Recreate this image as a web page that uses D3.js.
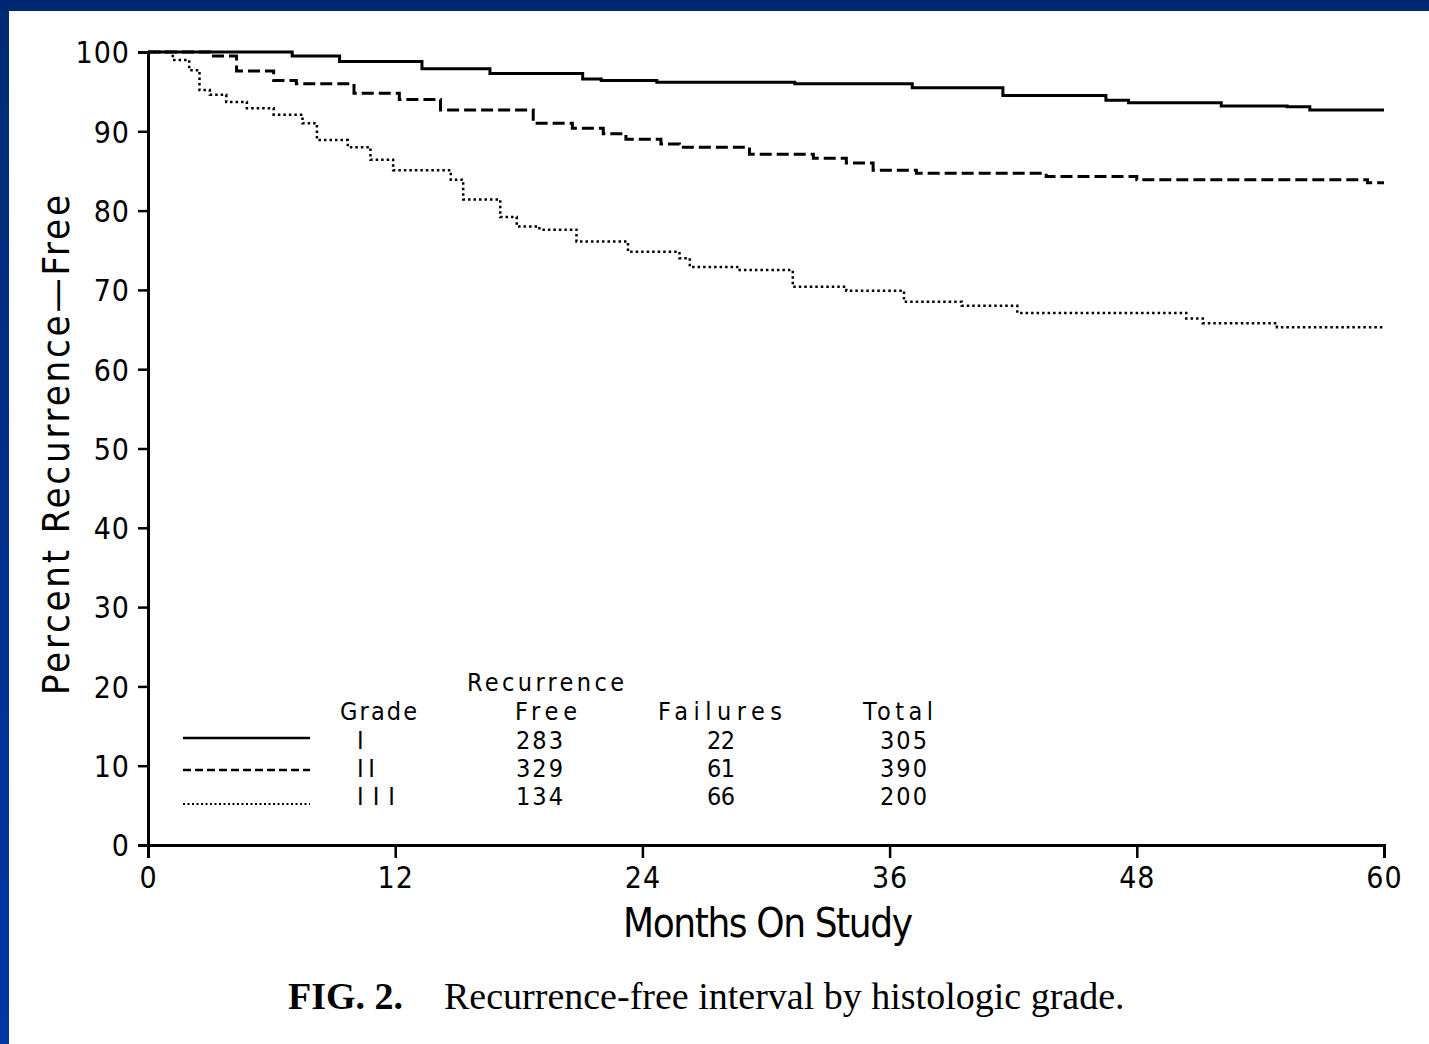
<!DOCTYPE html>
<html><head><meta charset="utf-8">
<script src="https://cdn.jsdelivr.net/npm/d3@7"></script>
<style>html,body{margin:0;padding:0;background:#fff;overflow:hidden}</style>
</head><body>
<script>
const xTicks = [0, 12, 24, 36, 48, 60];
const yTicks = [0, 10, 20, 30, 40, 50, 60, 70, 80, 90, 100];
const grades = ["I", "II", "III"];
const recurrenceFree = [283, 329, 134];
const failures = [22, 61, 66];
const totals = [305, 390, 200];
const gradeI = [[0,100],[7.0,99.5],[9.3,98.8],[13.3,97.9],[16.6,97.3],[21.1,96.6],[22.0,96.4],[24.7,96.2],[31.4,96.0],[37.1,95.5],[41.5,94.5],[46.5,93.9],[47.6,93.6],[52.1,93.2],[55.3,93.1],[56.4,92.7],[60,92.7]];
const gradeII = [[0,100],[3.0,99.5],[4.3,97.6],[6.1,96.4],[7.2,96.0],[10.0,94.8],[12.2,94.0],[14.2,92.7],[18.7,91.0],[20.6,90.4],[22.1,89.7],[23.2,89.0],[24.9,88.4],[25.8,88.0],[29.2,87.1],[32.3,86.6],[33.9,86.0],[35.2,85.1],[37.3,84.7],[43.6,84.3],[48.0,83.9],[59.2,83.5],[60,83.5]];
const gradeIII = [[0,100],[1.2,99.0],[2.0,97.7],[2.5,95.2],[3.0,94.6],[3.8,93.7],[4.8,92.9],[6.1,92.1],[7.5,91.0],[8.2,88.9],[9.7,88.0],[10.8,86.4],[11.9,85.1],[14.7,83.9],[15.3,81.4],[17.1,79.2],[17.9,78.0],[19.0,77.6],[20.8,76.1],[23.3,74.8],[25.8,74.0],[26.3,72.9],[28.6,72.5],[31.3,70.4],[33.9,69.9],[36.7,68.5],[39.5,68.0],[42.2,67.1],[50.4,66.4],[51.2,65.8],[54.8,65.3],[60,65.3]];

const W = 1429, H = 1044;
const svg = d3.select("body").append("svg").attr("width", W).attr("height", H);
const defs = svg.append("defs");
const lg = defs.append("linearGradient").attr("id","lb").attr("x1",0).attr("y1",0).attr("x2",0).attr("y2",1);
lg.append("stop").attr("offset","0%").attr("stop-color","#002a72");
lg.append("stop").attr("offset","100%").attr("stop-color","#0036a6");
svg.append("rect").attr("width",W).attr("height",H).attr("fill","#fff");
svg.append("rect").attr("x",0).attr("y",0).attr("width",9).attr("height",H).attr("fill","url(#lb)");
svg.append("rect").attr("x",0).attr("y",0).attr("width",W).attr("height",11).attr("fill","#002870");

const x = d3.scaleLinear().domain([0,60]).range([148,1384]);
const y = d3.scaleLinear().domain([0,100]).range([845,52]);
const F = "'DejaVu Sans Condensed','DejaVu Sans',sans-serif";

const g = svg.append("g");
const xa = g.append("g").attr("transform","translate(0,845)")
  .call(d3.axisBottom(x).tickValues(xTicks).tickSize(13).tickPadding(4).tickFormat(d3.format("d")));
const ya = g.append("g").attr("transform","translate(148,0)")
  .call(d3.axisLeft(y).tickValues(yTicks).tickSize(10).tickPadding(8).tickFormat(d3.format("d")));
[xa, ya].forEach(a => {
  a.select(".domain").attr("stroke","#000").attr("stroke-width",3);
  a.selectAll(".tick line").attr("stroke","#000").attr("stroke-width",2.5);
  a.selectAll(".tick text").attr("fill","#000").style("font-family",F).style("font-stretch","condensed")
    .style("font-size","30px").attr("letter-spacing","1px");
});
xa.selectAll(".tick text").attr("dy","0.88em");
ya.selectAll(".tick text").attr("dy","0.36em");

const line = d3.line().x(d=>x(d[0])).y(d=>y(d[1])).curve(d3.curveStepAfter);
const series = [
  {d:gradeI, dash:null, w:3},
  {d:gradeII, dash:"12,5", w:3},
  {d:gradeIII, dash:"2.5,3", w:2.5}
];
series.forEach(s => {
  g.append("path").datum(s.d).attr("d",line).attr("fill","none").attr("stroke","#000")
   .attr("stroke-width",s.w).attr("stroke-dasharray",s.dash);
});

svg.append("text").attr("x",768).attr("y",937).attr("text-anchor","middle")
  .style("font-family",F).style("font-stretch","condensed").style("font-size","40px")
  .attr("textLength",290).attr("lengthAdjust","spacing").text("Months  On  Study");
svg.append("text").attr("transform","translate(69,445) rotate(-90)").attr("text-anchor","middle")
  .style("font-family",F).style("font-stretch","condensed").style("font-size","38px")
  .attr("textLength",500).attr("lengthAdjust","spacing").text("Percent  Recurrence\u2014Free");

const leg = svg.append("g").style("font-family",F).style("font-stretch","condensed").style("font-size","25px").attr("fill","#000");
const hdr = [["Recurrence",467,691,157],["Grade",340,720,77],["Free",515,720,62],["Failures",658,720,124],["Total",863,720,70]];
hdr.forEach(h => leg.append("text").attr("x",h[1]).attr("y",h[2]).attr("textLength",h[3]).attr("lengthAdjust","spacing").text(h[0]));
const rowY = [749, 777, 805];
const lineY = [738, 770, 804];
const gradeW = [4, 18, 38];
series.forEach((s,i) => {
  leg.append("line").attr("x1",183).attr("x2",310).attr("y1",lineY[i]).attr("y2",lineY[i])
    .attr("stroke","#000").attr("stroke-width",i===2?2:2.5).attr("stroke-dasharray", i===1?"8,4":(i===2?"2,2.5":null));
  leg.append("text").attr("x",357).attr("y",rowY[i]).attr("textLength",gradeW[i]).attr("lengthAdjust","spacing").text(grades[i]);
  leg.append("text").attr("x",516).attr("y",rowY[i]).attr("textLength",47).attr("lengthAdjust","spacing").text(recurrenceFree[i]);
  leg.append("text").attr("x",707).attr("y",rowY[i]).attr("textLength",28).attr("lengthAdjust","spacing").text(failures[i]);
  leg.append("text").attr("x",880).attr("y",rowY[i]).attr("textLength",47).attr("lengthAdjust","spacing").text(totals[i]);
});

const cap = svg.append("text").attr("x",288).attr("y",1009).style("font-family","'Liberation Serif','Times New Roman',serif").style("font-size","38px").attr("fill","#000");
cap.append("tspan").style("font-weight","bold").text("FIG. 2.");
cap.append("tspan").attr("x",444).text("Recurrence-free interval by histologic grade.");
</script>
</body></html>
